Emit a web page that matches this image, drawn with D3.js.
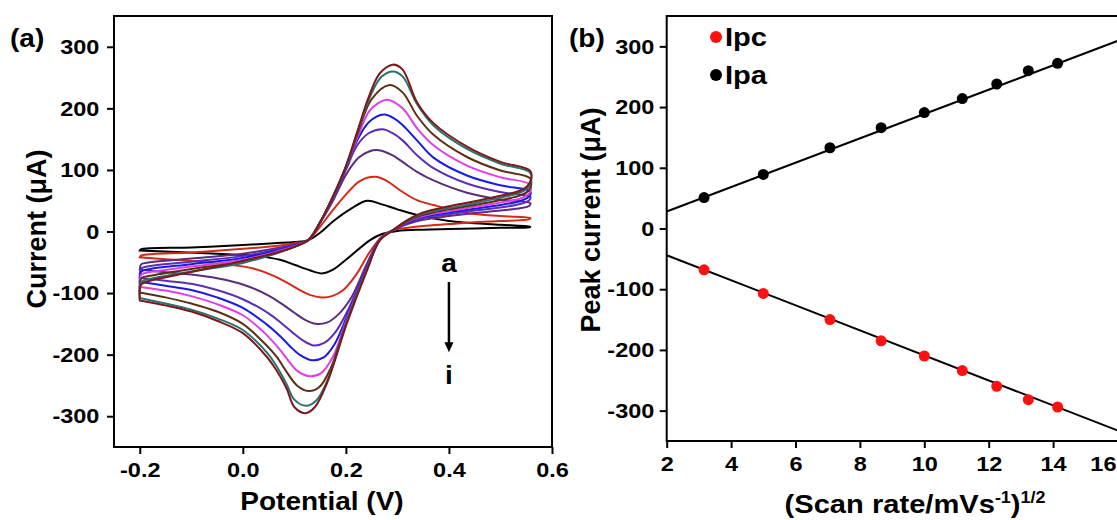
<!DOCTYPE html>
<html>
<head>
<meta charset="utf-8">
<script src="https://cdn.jsdelivr.net/npm/d3@7/dist/d3.min.js"></script>
<style>
  html, body { margin: 0; padding: 0; background: #fff; }
  svg text { font-family: "Liberation Sans", Arial, sans-serif; font-weight: bold; fill: #000; }
</style>
</head>
<body>
<svg id="chart" width="1117" height="520"></svg>
<script>
// ---------------- DATA ----------------
// Panel (a): cyclic voltammograms, curves a..i  (potential V, current µA)
const potentialTicks = [-0.2, 0.0, 0.2, 0.4, 0.6];
const currentTicks = [-300, -200, -100, 0, 100, 200, 300];
const cvLabels = ["a", "b", "c", "d", "e", "f", "g", "h", "i"];
const cvColors = ["#000000", "#d42a1a", "#5b2d7c", "#5a2fb5", "#1a1ae6", "#e03ee6", "#5c2f12", "#2e7070", "#7b1a1a"];

const cvA = [[-0.2,-31],[-0.198,-29],[-0.1,-26],[0.0,-22],[0.06,-19],[0.1,-17],[0.127,-14],[0.15,-2],[0.176,17],[0.208,36],[0.241,50],[0.27,44],[0.3,36],[0.338,27],[0.4,17],[0.5,11],[0.558,8],
  [0.556,7],[0.5,6],[0.45,5],[0.4,4],[0.35,3],[0.3,1],[0.27,-4],[0.247,-14],[0.2,-46],[0.175,-62],[0.155,-68],[0.13,-63],[0.1,-54],[0.072,-46],[0.03,-40],[-0.05,-36],[-0.2,-31]];
const cvB = [[-0.2,-42],[-0.197,-39],[-0.1,-34],[0.0,-28],[0.06,-24],[0.1,-19],[0.127,-14],[0.15,8],[0.175,35],[0.2,60],[0.227,82],[0.257,89],[0.28,82],[0.305,67],[0.338,51],[0.37,43],[0.435,30],[0.5,25],[0.558,22],
  [0.556,20],[0.5,17],[0.45,15],[0.4,12],[0.35,9],[0.32,6],[0.291,2],[0.27,-8],[0.245,-35],[0.22,-70],[0.195,-95],[0.173,-105],[0.153,-107],[0.13,-103],[0.11,-95],[0.09,-85],[0.06,-72],[0.02,-60],[-0.05,-52],[-0.1,-48],[-0.15,-45],[-0.2,-42]];
const cvC = [[-0.2,-62],[-0.197,-53],[-0.18,-50],[-0.1,-44],[0.0,-36],[0.06,-28],[0.1,-21],[0.127,-14],[0.15,14],[0.175,50],[0.2,92],[0.225,120],[0.245,130],[0.264,132],[0.29,124],[0.31,113],[0.338,97],[0.37,83],[0.435,63],[0.5,52],[0.558,46],
  [0.556,42],[0.54,38],[0.5,34],[0.45,30],[0.4,25],[0.35,19],[0.32,12],[0.291,2],[0.266,-12],[0.241,-52],[0.21,-108],[0.185,-135],[0.163,-148],[0.142,-150],[0.12,-143],[0.1,-132],[0.08,-120],[0.05,-104],[0.0,-86],[-0.05,-76],[-0.1,-70],[-0.15,-66],[-0.2,-62]];
const cvD = [[-0.2,-75],[-0.197,-60],[-0.18,-56],[-0.1,-49],[0.0,-40],[0.06,-30],[0.1,-22],[0.127,-14],[0.15,15],[0.175,54],[0.2,100],[0.222,140],[0.245,160],[0.271,166],[0.29,160],[0.31,148],[0.338,124],[0.37,103],[0.435,78],[0.5,64],[0.558,56],
  [0.556,51],[0.54,45],[0.5,39],[0.45,34],[0.4,28],[0.35,22],[0.32,14],[0.291,2],[0.266,-13],[0.241,-56],[0.205,-126],[0.18,-163],[0.158,-181],[0.137,-185],[0.115,-176],[0.095,-163],[0.075,-149],[0.05,-133],[0.0,-110],[-0.05,-95],[-0.1,-85],[-0.15,-80],[-0.2,-75]];
const cvE = [[-0.2,-82],[-0.197,-65],[-0.18,-61],[-0.1,-53],[0.0,-43],[0.06,-32],[0.1,-23],[0.127,-14],[0.15,15],[0.175,55],[0.2,103],[0.222,148],[0.245,178],[0.274,190],[0.295,183],[0.31,173],[0.338,148],[0.37,120],[0.435,91],[0.5,75],[0.558,65],
  [0.556,57],[0.54,50],[0.5,43],[0.45,37],[0.4,31],[0.35,24],[0.32,15],[0.291,2],[0.266,-13],[0.241,-58],[0.202,-138],[0.178,-183],[0.156,-205],[0.134,-209],[0.11,-200],[0.09,-185],[0.07,-168],[0.045,-150],[0.0,-124],[-0.05,-107],[-0.1,-95],[-0.15,-88],[-0.2,-82]];
const cvF = [[-0.2,-90],[-0.197,-70],[-0.18,-66],[-0.1,-57],[0.0,-46],[0.06,-34],[0.1,-24],[0.127,-14],[0.15,15],[0.175,56],[0.2,104],[0.222,152],[0.245,195],[0.262,208],[0.281,214],[0.31,200],[0.338,168],[0.37,140],[0.435,107],[0.5,88],[0.558,76],
  [0.556,62],[0.54,54],[0.5,47],[0.45,40],[0.4,33],[0.35,25],[0.32,16],[0.291,2],[0.266,-13],[0.241,-60],[0.202,-142],[0.175,-203],[0.152,-230],[0.129,-235],[0.105,-226],[0.085,-206],[0.065,-185],[0.04,-163],[0.0,-136],[-0.05,-118],[-0.1,-105],[-0.15,-96],[-0.2,-90]];
const cvG = [[-0.2,-99],[-0.197,-76],[-0.18,-72],[-0.1,-61],[0.0,-49],[0.06,-36],[0.1,-25],[0.127,-14],[0.15,15],[0.175,57],[0.2,105],[0.222,157],[0.25,215],[0.285,238],[0.31,226],[0.338,188],[0.37,157],[0.435,121],[0.5,99],[0.558,86],
  [0.556,68],[0.54,59],[0.5,51],[0.45,43],[0.4,36],[0.35,27],[0.32,17],[0.291,2],[0.266,-14],[0.241,-61],[0.202,-145],[0.17,-223],[0.148,-253],[0.127,-259],[0.105,-250],[0.085,-228],[0.065,-203],[0.04,-180],[0.0,-150],[-0.05,-130],[-0.1,-117],[-0.15,-107],[-0.2,-99]];
const cvH = [[-0.2,-108],[-0.197,-82],[-0.18,-77],[-0.1,-65],[0.0,-51],[0.06,-37],[0.1,-25],[0.127,-14],[0.15,15],[0.175,57],[0.2,106],[0.222,160],[0.25,225],[0.27,252],[0.291,260],[0.31,252],[0.338,207],[0.37,172],[0.435,134],[0.5,110],[0.558,95],
  [0.556,74],[0.54,64],[0.5,55],[0.45,46],[0.4,38],[0.35,29],[0.32,18],[0.291,2],[0.266,-14],[0.241,-62],[0.202,-147],[0.165,-240],[0.143,-274],[0.123,-283],[0.1,-273],[0.085,-248],[0.065,-218],[0.046,-196],[0.0,-160],[-0.05,-141],[-0.1,-127],[-0.15,-117],[-0.2,-108]];
const cvI = [[-0.2,-112],[-0.197,-86],[-0.18,-80],[-0.13,-71],[-0.034,-54],[0.063,-35],[0.1,-25],[0.127,-14],[0.15,15],[0.175,57],[0.2,106],[0.222,162],[0.245,220],[0.266,257],[0.291,271],[0.31,263],[0.338,210],[0.37,176],[0.435,138],[0.5,113],[0.558,98],
  [0.556,78],[0.54,67],[0.5,58],[0.45,49],[0.4,41],[0.35,31],[0.32,19],[0.291,2],[0.266,-14],[0.241,-63],[0.202,-149],[0.163,-247],[0.14,-285],[0.121,-295],[0.1,-285],[0.085,-255],[0.065,-225],[0.046,-203],[0.0,-165],[-0.05,-145],[-0.1,-130],[-0.15,-120],[-0.2,-112]];
const cvCurves = [cvA, cvB, cvC, cvD, cvE, cvF, cvG, cvH, cvI];

// Panel (b): peak current vs sqrt(scan rate)
const rateTicks = [2, 4, 6, 8, 10, 12, 14, 16];
const sqrtRate = [3.16, 5.0, 7.07, 8.66, 10.0, 11.18, 12.25, 13.23, 14.14];
const ipa = [51, 89, 133, 166, 191, 214, 238, 260, 272];
const ipc = [-68, -107, -150, -185, -210, -234, -260, -282, -294];
const ipaFit = [[2, 28], [16.5, 319]];
const ipcFit = [[2, -44], [16.5, -343]];
const legendItems = [["Ipc", "#ff1010"], ["Ipa", "#000000"]];

// ---------------- DRAW ----------------
const SX = 1.12; // horizontal stretch of the original lettering
const svg = d3.select("#chart");
svg.append("rect").attr("width", 1117).attr("height", 520).attr("fill", "#fff");

function label(g, x, y, str, size, anchor) {
  return g.append("text")
    .attr("transform", `translate(${x},${y}) scale(${SX},1)`)
    .attr("text-anchor", anchor || "start")
    .style("font-size", size + "px")
    .text(str);
}
function styleTicks(g) {
  g.selectAll(".tick line").attr("stroke", "#000").attr("stroke-width", 2);
  g.selectAll(".tick text")
    .attr("transform", `scale(${SX},1)`)
    .style("font-size", "21px")
    .style("font-family", "'Liberation Sans', Arial, sans-serif")
    .style("font-weight", "bold");
}

// ---- Panel (a)
const xL = d3.scaleLinear().domain([-0.25, 0.6]).range([114, 552]);
const yL = d3.scaleLinear().domain([-350, 350]).range([447, 16]);

const gA = svg.append("g");
gA.append("g").attr("transform", "translate(0,447)")
  .call(d3.axisBottom(xL).tickValues(potentialTicks).tickSize(7).tickPadding(8).tickFormat(d => d.toFixed(1)))
  .call(g => g.select(".domain").remove())
  .call(styleTicks);
gA.append("g").attr("transform", "translate(114,0)")
  .call(d3.axisLeft(yL).tickValues(currentTicks).tickSize(7).tickPadding(6).tickFormat(d => String(d)))
  .call(g => g.select(".domain").remove())
  .call(styleTicks);

const line = d3.line().x(d => xL(d[0])).y(d => yL(d[1])).curve(d3.curveCatmullRom.alpha(0.5));
gA.append("g").selectAll("path").data(cvCurves).join("path")
  .attr("d", d => line(d) + "Z")
  .attr("fill", "none")
  .attr("stroke", (d, i) => cvColors[i])
  .attr("stroke-width", 2);

gA.append("rect").attr("x", 114).attr("y", 16).attr("width", 552 - 114).attr("height", 447 - 16)
  .attr("fill", "none").attr("stroke", "#000").attr("stroke-width", 2);

// arrow a -> i
label(gA, xL(0.4), yL(-66), cvLabels[0], 25, "middle");
label(gA, xL(0.4), yL(-248), cvLabels[8], 25, "middle");
gA.append("line").attr("x1", xL(0.4)).attr("x2", xL(0.4)).attr("y1", yL(-82)).attr("y2", yL(-182))
  .attr("stroke", "#000").attr("stroke-width", 2.5);
gA.append("path")
  .attr("d", `M${xL(0.4) - 4.5},${yL(-180)} L${xL(0.4) + 4.5},${yL(-180)} L${xL(0.4)},${yL(-196)} Z`)
  .attr("fill", "#000");

label(gA, 10, 47, "(a)", 25);
label(gA, 322, 510, "Potential (V)", 25, "middle");
gA.append("text").attr("transform", "translate(46,229) rotate(-90)").attr("text-anchor", "middle").style("font-size", "27px").text("Current (μA)");

// ---- Panel (b)
const xR = d3.scaleLinear().domain([2, 16.5]).range([666.7, 666.7 + 14.5 * 32.2]);
const yR = d3.scaleLinear().domain([-350, 350]).range([441, 16]);

const gB = svg.append("g");
svg.append("clipPath").attr("id", "clipB").append("rect")
  .attr("x", xR(2)).attr("y", 16).attr("width", xR(16.5) - xR(2)).attr("height", 441 - 16);

gB.append("g").attr("transform", "translate(0,441)")
  .call(d3.axisBottom(xR).tickValues(rateTicks).tickSize(7).tickPadding(8).tickFormat(d => String(d)))
  .call(g => g.select(".domain").remove())
  .call(styleTicks)
  .call(g => g.selectAll(".tick text").filter(d => d === 16).attr("dx", -13));
gB.append("g").attr("transform", `translate(${xR(2)},0)`)
  .call(d3.axisLeft(yR).tickValues(currentTicks).tickSize(7).tickPadding(4).tickFormat(d => String(d)))
  .call(g => g.select(".domain").remove())
  .call(styleTicks);

const fitLine = d3.line().x(d => xR(d[0])).y(d => yR(d[1]));
const plotB = gB.append("g").attr("clip-path", "url(#clipB)");
plotB.append("path").attr("d", fitLine(ipaFit)).attr("stroke", "#000").attr("stroke-width", 2).attr("fill", "none");
plotB.append("path").attr("d", fitLine(ipcFit)).attr("stroke", "#000").attr("stroke-width", 2).attr("fill", "none");
plotB.append("g").selectAll("circle").data(sqrtRate).join("circle")
  .attr("cx", d => xR(d)).attr("cy", (d, i) => yR(ipa[i])).attr("r", 5.5).attr("fill", legendItems[1][1]);
plotB.append("g").selectAll("circle").data(sqrtRate).join("circle")
  .attr("cx", d => xR(d)).attr("cy", (d, i) => yR(ipc[i])).attr("r", 5.5).attr("fill", legendItems[0][1]);

gB.append("rect").attr("x", xR(2)).attr("y", 16).attr("width", xR(16.5) - xR(2)).attr("height", 441 - 16)
  .attr("fill", "none").attr("stroke", "#000").attr("stroke-width", 2);

// legend
const leg = gB.append("g");
legendItems.forEach((it, i) => {
  const cy = 37 + i * 38;
  leg.append("circle").attr("cx", 716).attr("cy", cy).attr("r", 6).attr("fill", it[1]);
  label(leg, 725, cy + 9, it[0], 26);
});

label(gB, 569, 47, "(b)", 25);
const xt = gB.append("text")
  .attr("transform", `translate(915,513) scale(${SX},1)`)
  .attr("text-anchor", "middle").style("font-size", "26px");
xt.append("tspan").text("(Scan rate/mVs");
xt.append("tspan").attr("dy", -10).style("font-size", "16px").text("-1");
xt.append("tspan").attr("dy", 10).text(")");
xt.append("tspan").attr("dy", -10).style("font-size", "16px").text("1/2");
gB.append("text").attr("transform", "translate(600,220) rotate(-90)").attr("text-anchor", "middle").style("font-size", "27px").text("Peak current (μA)");
</script>
</body>
</html>
